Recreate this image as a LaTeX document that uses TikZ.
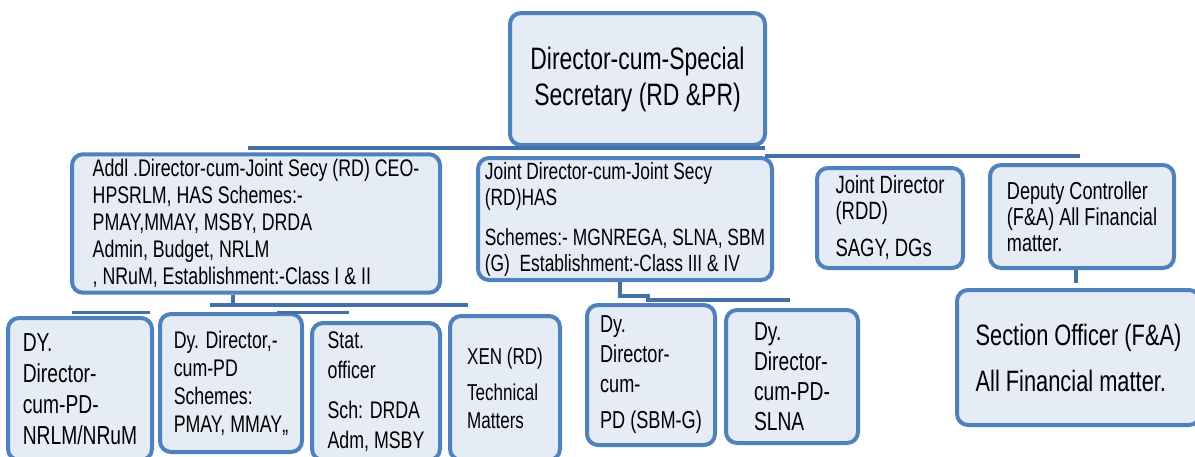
\documentclass[tikz,border=0pt]{standalone}
\usepackage{fontspec}
\setmainfont{Liberation Sans}[FakeStretch=0.74]
\usetikzlibrary{positioning}
\definecolor{boxblue}{HTML}{4F81BD}
\definecolor{barblue}{HTML}{4470A8}
\definecolor{boxfill}{HTML}{E6ECF5}

\begin{document}
\begin{tikzpicture}[x=1pt,y=-1pt]
\tikzstyle{post} = [draw=boxblue,line width=4pt,rounded corners=11pt,fill=boxfill,align=left,inner sep=5pt]
\tikzstyle{bar} = [draw=barblue,line width=4pt]
\useasboundingbox (0,0) rectangle (1195,456);

    % top level
    \node[post,align=center,minimum width=255pt,minimum height=132pt,font=\fontsize{31}{36}\selectfont] (dss) at (637.5,79) {Director-cum-Special\\Secretary (RD \&PR)};

    % second level
    \node[post,minimum width=368pt,minimum height=133pt,font=\fontsize{24}{27}\selectfont] (addl) at (256,223.5) {Addl .Director-cum-Joint Secy (RD) CEO-\\HPSRLM, HAS Schemes:-\\PMAY,MMAY, MSBY, DRDA\\Admin, Budget, NRLM\\, NRuM, Establishment:-Class I \& II};
    \node[post,minimum width=294pt,minimum height=122pt,inner sep=3pt,font=\fontsize{23.5}{26}\selectfont] (jdhas) at (625,219) {Joint Director-cum-Joint Secy\\(RD)HAS\\[14pt]Schemes:- MGNREGA, SLNA, SBM\\(G)\ \ Establishment:-Class III \& IV};
    \node[post,minimum width=146pt,minimum height=100pt,font=\fontsize{25}{26}\selectfont] (jdrdd) at (890,218) {Joint Director\\(RDD)\\[11pt]SAGY, DGs};
    \node[post,minimum width=184pt,minimum height=103pt,font=\fontsize{24.5}{26}\selectfont] (dc) at (1082,216.5) {Deputy Controller\\(F\&A) All Financial\\matter.};

    % third level
    \node[post,minimum width=243pt,minimum height=135pt,font=\fontsize{29.5}{46}\selectfont] (so) at (1078.5,357.5) {Section Officer (F\&A)\\All Financial matter.};
    \node[post,minimum width=144pt,minimum height=142pt,font=\fontsize{26}{31}\selectfont] (pdnrlm) at (80,389) {DY.\\Director-\\cum-PD-\\NRLM/NRuM};
    \node[post,minimum width=142pt,minimum height=138pt,font=\fontsize{24}{28}\selectfont] (pdpmay) at (231,383) {Dy. Director,-\\cum-PD\\Schemes:\\PMAY, MMAY,,};
    \node[post,minimum width=128pt,minimum height=137pt,font=\fontsize{24}{30}\selectfont] (stat) at (376,391.5) {Stat.\\officer\\[10pt]Sch: DRDA\\Adm, MSBY};
    \node[post,minimum width=110pt,minimum height=144pt,font=\fontsize{23}{28}\selectfont] (xen) at (505,388) {XEN (RD)\\[8pt]Technical\\Matters};
    \node[post,minimum width=128pt,minimum height=140pt,font=\fontsize{24.5}{30}\selectfont] (pdsbm) at (651,375) {Dy.\\Director-\\cum-\\[6pt]PD (SBM-G)};
    \node[post,minimum width=132pt,minimum height=133pt,font=\fontsize{26}{30}\selectfont] (pdslna) at (792,376.5) {Dy.\\Director-\\cum-PD-\\SLNA};

    % connector bars
    \coordinate (b1l) at (248,148);
    \coordinate (b1m) at (765,148);
    \coordinate (b1r) at (1080,156);
    \coordinate (sA) at (233,305);
    \coordinate (sB) at (620,296);
    \coordinate (sD) at (1076,283);
    \draw[bar] (b1l) -- (b1m);
    \draw[bar] (b1m |- b1r) -- (b1r);
    \draw[bar] (addl.south -| sA) -- (sA);
    \draw[bar] (210,305) -- (468,305);
    \draw[bar,line width=3pt] (72,312) -- (150,312);
    \draw[bar,line width=3pt] (277,312) -- (349,312);
    \draw[bar] (jdhas.south -| sB) -- (sB) -- ++(28,0) -- ++(0,4) -- (790,300);
    \draw[bar] (dc.south -| sD) -- (sD);
\end{tikzpicture}
\end{document}
